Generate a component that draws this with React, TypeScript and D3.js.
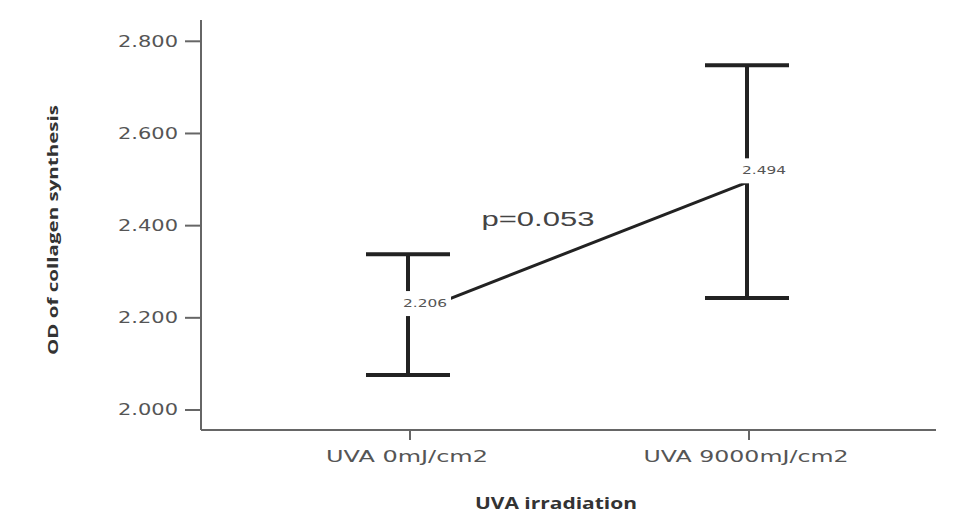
import React from "react";
import * as d3 from "d3";

const categories = ["UVA 0mJ/cm2", "UVA 9000mJ/cm2"];
const means = [2.206, 2.494];
const upper = [2.338, 2.748];
const lower = [2.076, 2.243];
const yTicks = [2.0, 2.2, 2.4, 2.6, 2.8];
const pLabel = "p=0.053";

export default function App() {
  const W = 962, H = 529;
  const y = d3.scaleLinear().domain([2.0, 2.8]).range([410, 41.3]);
  const x = d3.scalePoint<string>().domain(categories).range([408, 747]);
  const axisX = 201, axisY = 430;
  const line = d3.line<number>().x((_, i) => x(categories[i])!).y((d) => y(d));
  const capHalf = 42;
  const fmt = d3.format(".3f");
  return (
    <svg width={W} height={H} style={{ position: "absolute", left: 0, top: 0, background: "#fff" }}>
      <rect x={0} y={0} width={W} height={H} fill="#fff" />
      {/* axes */}
      <line x1={axisX} y1={20} x2={axisX} y2={axisY} stroke="#666" strokeWidth={2} />
      <line x1={axisX} y1={axisY} x2={936} y2={axisY} stroke="#666" strokeWidth={2} />
      {yTicks.map((t) => (
        <g key={t}>
          <line x1={185} x2={axisX} y1={y(t)} y2={y(t)} stroke="#666" strokeWidth={2} />
          <text x={178} y={y(t)} dy="0.36em" textAnchor="end" fontFamily="DejaVu Sans" fontSize={15}
            fill="#555" textLength={60} lengthAdjust="spacingAndGlyphs">{fmt(t)}</text>
        </g>
      ))}
      {categories.map((c) => (
        <g key={c}>
          <line x1={x(c)! + 2} x2={x(c)! + 2} y1={axisY} y2={440} stroke="#666" strokeWidth={2} />
          <text x={x(c)! - 1} y={462} textAnchor="middle" fontFamily="DejaVu Sans" fontSize={15}
            fill="#555" textLength={c.length > 12 ? 205 : 162} lengthAdjust="spacingAndGlyphs">{c}</text>
        </g>
      ))}
      <text transform={`translate(58,230) rotate(-90)`} textAnchor="middle" fontFamily="Open Sans" fontWeight="bold"
        fontSize={15} fill="#333" textLength={250} lengthAdjust="spacingAndGlyphs">OD of collagen synthesis</text>
      <text x={556} y={509} textAnchor="middle" fontFamily="Open Sans" fontWeight="bold" fontSize={16}
        fill="#333" textLength={162} lengthAdjust="spacingAndGlyphs">UVA irradiation</text>
      {/* mean line */}
      <path d={line(means) || ""} fill="none" stroke="#222" strokeWidth={3} />
      {/* error bars */}
      {categories.map((c, i) => (
        <g key={c} stroke="#222" strokeWidth={4}>
          <line x1={x(c)} x2={x(c)} y1={y(upper[i])} y2={y(lower[i])} />
          <line x1={x(c)! - capHalf} x2={x(c)! + capHalf} y1={y(upper[i])} y2={y(upper[i])} />
          <line x1={x(c)! - capHalf} x2={x(c)! + capHalf} y1={y(lower[i])} y2={y(lower[i])} />
        </g>
      ))}
      {/* mean labels */}
      {categories.map((c, i) => (
        <g key={c}>
          <rect x={x(c)! - 7} y={y(means[i]) - 24} width={50} height={25} fill="#fff" />
          <text x={x(c)! + 17} y={y(means[i]) - 12} dy="0.36em" textAnchor="middle" fontFamily="DejaVu Sans"
            fontSize={11} fill="#555" textLength={44} lengthAdjust="spacingAndGlyphs">{fmt(means[i])}</text>
        </g>
      ))}
      <text x={538} y={226} textAnchor="middle" fontFamily="Liberation Sans" fontSize={20} fill="#444"
        textLength={113} lengthAdjust="spacingAndGlyphs">{pLabel}</text>
    </svg>
  );
}
